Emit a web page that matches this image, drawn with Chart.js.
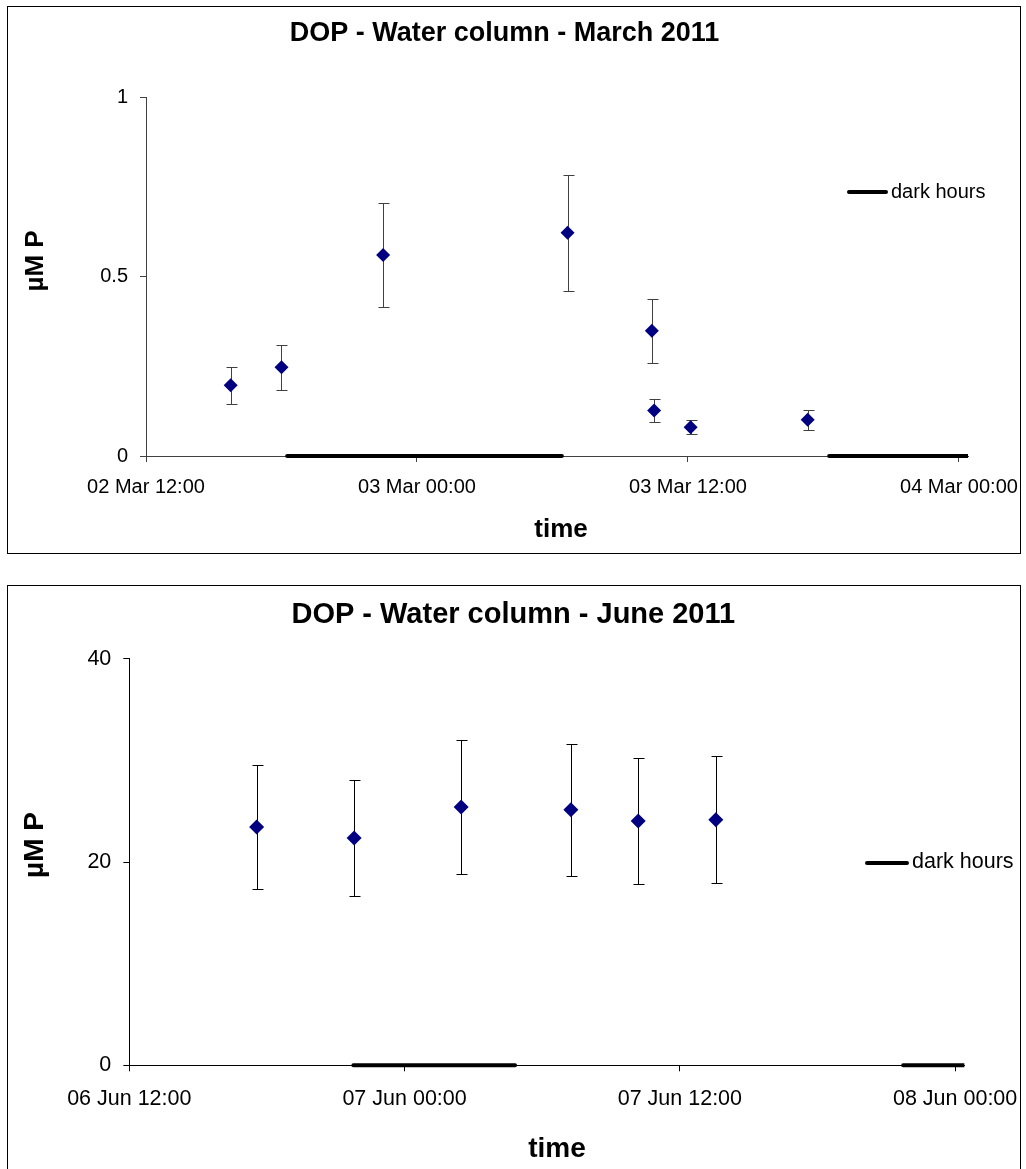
<!DOCTYPE html>
<html>
<head>
<meta charset="utf-8">
<script src="https://cdn.jsdelivr.net/npm/chart.js@4.4.1/dist/chart.umd.min.js"></script>
<style>
  html, body { margin: 0; padding: 0; background: #fff; overflow: hidden; }
  .frame { position: absolute; border: 1px solid #000; box-sizing: border-box; }
  canvas { position: absolute; left: 0; }
</style>
</head>
<body>
<div class="frame" style="left:7px; top:6px; width:1014px; height:548px;"></div>
<div class="frame" style="left:7px; top:585px; width:1014px; height:600px;"></div>
<canvas id="marchChart" width="1026" height="570" style="top:0"></canvas>
<canvas id="juneChart" width="1026" height="599" style="top:570px"></canvas>

<script>
// March 2011 sampling ####################################################
const marchStart = '2011-03-02T12:00';
const marchTimes = ['2011-03-02T15:45', '2011-03-02T18:00', '2011-03-02T22:30', '2011-03-03T06:40',
                    '2011-03-03T10:24', '2011-03-03T10:30', '2011-03-03T12:07', '2011-03-03T17:18'];
const marchDOP   = [0.197, 0.247, 0.560, 0.622, 0.349, 0.127, 0.080, 0.101];
const marchErr   = [0.051, 0.063, 0.145, 0.162, 0.089, 0.033, 0.020, 0.028];
const marchDark  = [['2011-03-02T18:15', '2011-03-03T06:25'], ['2011-03-03T18:15', '2011-03-04T06:25']];
const marchTickLabels = ['02 Mar 12:00', '03 Mar 00:00', '03 Mar 12:00', '04 Mar 00:00'];
const marchYTicks = [0, 0.5, 1];

// June 2011 sampling #####################################################
const juneStart = '2011-06-06T12:00';
const juneTimes = ['2011-06-06T17:33', '2011-06-06T21:48', '2011-06-07T02:28',
                   '2011-06-07T07:15', '2011-06-07T10:11', '2011-06-07T13:34'];
const juneDOP   = [23.44, 22.36, 25.41, 25.15, 24.03, 24.16];
const juneErr   = [6.10, 5.75, 6.60, 6.50, 6.20, 6.25];
const juneDark  = [['2011-06-06T21:46', '2011-06-07T04:49'], ['2011-06-07T21:44', '2011-06-08T04:49']];
const juneTickLabels = ['06 Jun 12:00', '07 Jun 00:00', '07 Jun 12:00', '08 Jun 00:00'];
const juneYTicks = [0, 20, 40];

// shared time axis (hours after the first tick)
const tickHours = [0, 12, 24, 36];
const axisHours = 36.4;

Chart.defaults.font.family = "'Liberation Sans', Arial, sans-serif";
Chart.defaults.color = '#000';

function hoursFrom(start, t) {
    return (new Date(t) - new Date(start)) / 3600000;
}

// vertical error bars behind the diamonds
const errorBars = {
    id: 'errorBars',
    beforeDatasetsDraw(chart, args, opts) {
        const ctx = chart.ctx;
        const yScale = chart.scales.y;
        const ds = chart.data.datasets[0];
        const meta = chart.getDatasetMeta(0);
        ctx.save();
        ctx.strokeStyle = opts.color;
        ctx.lineWidth = 1;
        meta.data.forEach((pt, i) => {
            const v = ds.data[i].y;
            const top = Math.round(yScale.getPixelForValue(v + opts.errors[i])) + 0.5;
            const bot = Math.round(yScale.getPixelForValue(v - opts.errors[i])) + 0.5;
            const x = Math.round(pt.x) + 0.5;
            ctx.beginPath();
            ctx.moveTo(x, top); ctx.lineTo(x, bot);
            ctx.moveTo(x - opts.cap, top); ctx.lineTo(x + opts.cap + 1, top);
            ctx.moveTo(x - opts.cap, bot); ctx.lineTo(x + opts.cap + 1, bot);
            ctx.stroke();
        });
        ctx.restore();
    }
};

// Excel-like legend and axis titles
const sheetText = {
    id: 'sheetText',
    afterDraw(chart, args, o) {
        const ctx = chart.ctx;
        const fam = Chart.defaults.font.family;
        ctx.save();
        ctx.fillStyle = '#000';
        ctx.textBaseline = 'middle';

        // legend entry for the dark hours line
        const dark = chart.data.datasets[1];
        ctx.strokeStyle = dark.borderColor;
        ctx.lineWidth = dark.borderWidth;
        ctx.lineCap = 'round';
        ctx.beginPath();
        ctx.moveTo(o.legend.x1, o.legend.y);
        ctx.lineTo(o.legend.x2, o.legend.y);
        ctx.stroke();
        ctx.font = o.legend.size + 'px ' + fam;
        ctx.textAlign = 'left';
        ctx.fillText(dark.label, o.legend.x2 + 5, o.legend.ty);

        // axis titles
        ctx.font = 'bold ' + o.titleSize + 'px ' + fam;
        ctx.textAlign = 'center';
        ctx.fillText(o.xTitle, o.xAt[0], o.xAt[1]);
        ctx.translate(o.yAt[0], o.yAt[1]);
        ctx.rotate(-Math.PI / 2);
        ctx.fillText(o.yTitle, 0, 0);
        ctx.restore();
    }
};

function makeChart(id, s) {
    const points = s.times.map((t, i) => ({ x: hoursFrom(s.start, t), y: s.values[i] }));
    const datasets = [{
        label: 'DOP',
        data: points,
        pointStyle: 'rectRot',
        pointRadius: s.marker,
        pointHoverRadius: s.marker,
        backgroundColor: '#000080',
        borderColor: '#000080',
        borderWidth: 0
    }];
    s.dark.forEach(p => {
        datasets.push({
            label: 'dark hours',
            data: p.map(t => ({ x: hoursFrom(s.start, t), y: 0 })),
            showLine: true,
            borderColor: '#000',
            borderWidth: 4,
            borderCapStyle: 'round',
            pointRadius: 0,
            clip: { left: 0, right: 0, top: 6, bottom: 6 }
        });
    });

    return new Chart(document.getElementById(id), {
        type: 'scatter',
        data: { datasets: datasets },
        options: {
            responsive: false,
            animation: false,
            events: [],
            devicePixelRatio: 1,
            layout: { padding: s.pad },
            plugins: {
                legend: { display: false },
                tooltip: { enabled: false },
                title: {
                    display: true,
                    text: s.title,
                    font: { size: s.titleFont, weight: 'bold' },
                    padding: s.titlePad
                },
                errorBars: { errors: s.errors, color: s.axisColor, cap: 5 },
                sheetText: s.text
            },
            scales: {
                x: {
                    type: 'linear',
                    min: 0,
                    max: axisHours,
                    afterBuildTicks: scale => { scale.ticks = tickHours.map(v => ({ value: v })); },
                    afterFit: scale => {
                        scale.height = s.xHeight;
                        // labels may hang past the plot edge, like in Excel
                        scale.paddingLeft = 0;
                        scale.paddingRight = 0;
                    },
                    ticks: {
                        autoSkip: false,
                        maxRotation: 0,
                        padding: s.xTickPad,
                        font: { size: s.tickFont },
                        callback: (v, i) => s.tickLabels[i]
                    },
                    grid: { drawOnChartArea: false, drawTicks: true, tickLength: 6, color: s.axisColor },
                    border: { display: true, color: s.axisColor }
                },
                y: {
                    min: s.yTicks[0],
                    max: s.yTicks[s.yTicks.length - 1],
                    afterBuildTicks: scale => { scale.ticks = s.yTicks.map(v => ({ value: v })); },
                    afterFit: scale => { scale.width = s.yWidth; },
                    ticks: {
                        padding: 12,
                        font: { size: s.tickFont },
                        callback: v => String(v)
                    },
                    grid: { drawOnChartArea: false, drawTicks: true, tickLength: 6, color: s.axisColor },
                    border: { display: true, color: s.axisColor }
                }
            }
        },
        plugins: [errorBars, sheetText]
    });
}

makeChart('marchChart', {
    title: 'DOP - Water column - March 2011',
    start: marchStart, times: marchTimes, values: marchDOP, errors: marchErr, dark: marchDark,
    tickLabels: marchTickLabels, yTicks: marchYTicks,
    marker: 7, axisColor: '#404040',
    pad: { left: 41, right: 58, top: 0, bottom: 25 },
    titleFont: 27, titlePad: { top: 17.5, bottom: 47.1 },
    tickFont: 20, xTickPad: 13, xHeight: 89, yWidth: 105,
    text: {
        legend: { x1: 849, x2: 886, y: 192, ty: 192, size: 20 },
        titleSize: 26, xTitle: 'time', xAt: [561, 529.5], yTitle: 'µM P', yAt: [36, 261]
    }
});

makeChart('juneChart', {
    title: 'DOP - Water column - June 2011',
    start: juneStart, times: juneTimes, values: juneDOP, errors: juneErr, dark: juneDark,
    tickLabels: juneTickLabels, yTicks: juneYTicks,
    marker: 7.5, axisColor: '#000',
    pad: { left: 62.3, right: 61.7, top: 0, bottom: 2.2 },
    titleFont: 29, titlePad: { top: 27.6, bottom: 26.3 },
    tickFont: 21.5, xTickPad: 14.5, xHeight: 101.5, yWidth: 67,
    text: {
        legend: { x1: 867, x2: 907, y: 293, ty: 292.5, size: 21.5 },
        titleSize: 28, xTitle: 'time', xAt: [557, 579.7], yTitle: 'µM P', yAt: [35.5, 275]
    }
});
</script>
</body>
</html>
